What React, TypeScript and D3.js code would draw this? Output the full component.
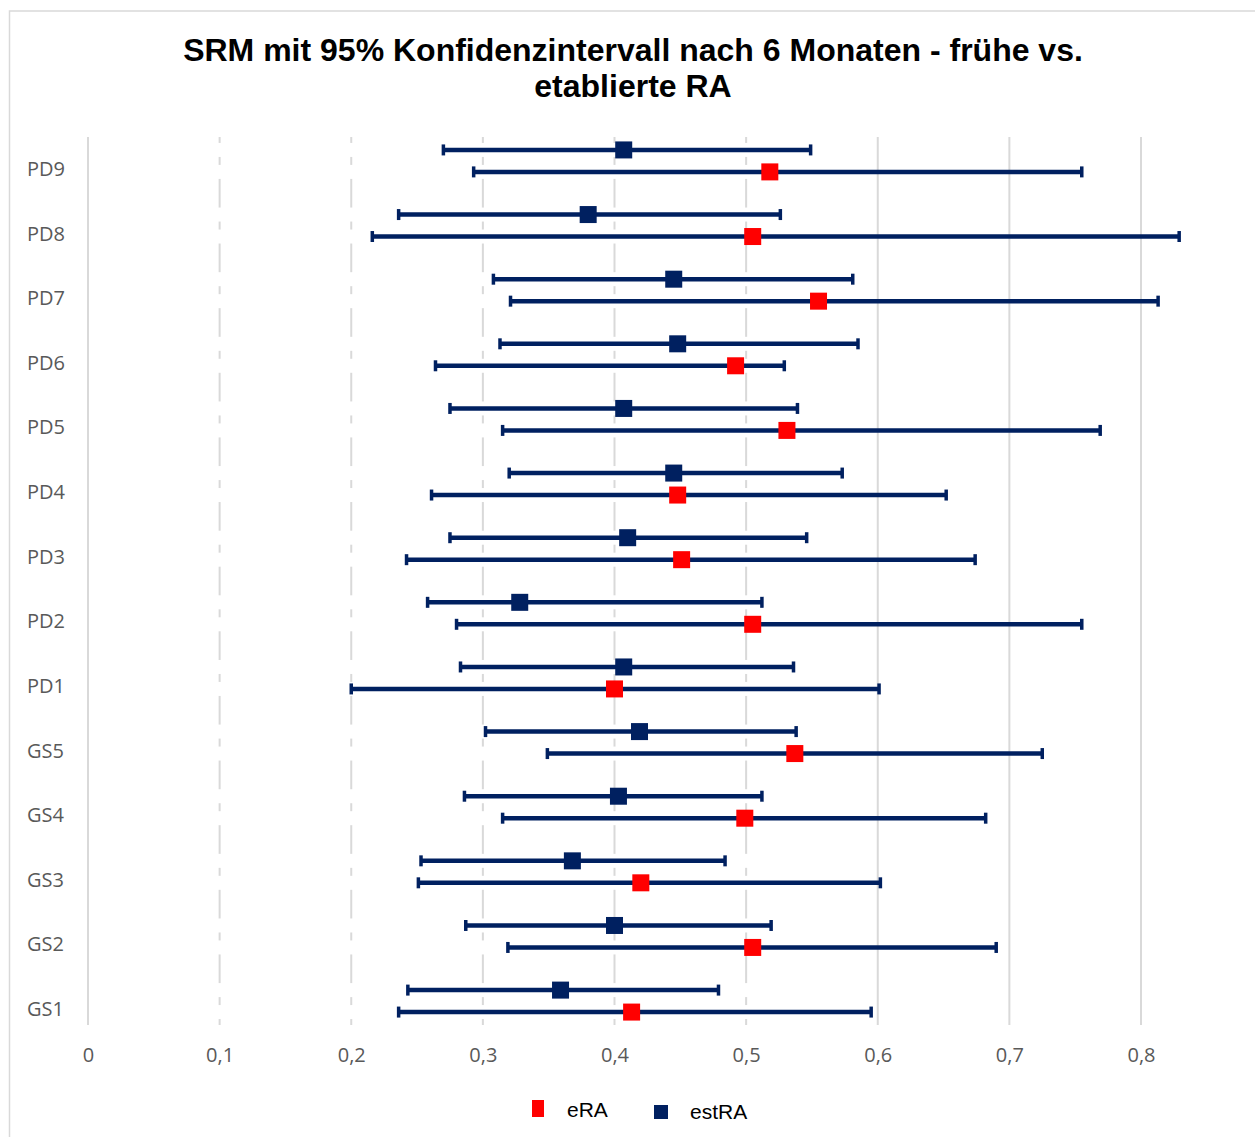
import React, { useEffect, useRef } from "react";
import * as d3 from "d3";

const categories = ["GS1", "GS2", "GS3", "GS4", "GS5", "PD1", "PD2", "PD3", "PD4", "PD5", "PD6", "PD7", "PD8", "PD9"];

const eraMid = [0.413, 0.505, 0.42, 0.499, 0.537, 0.4, 0.505, 0.451, 0.448, 0.531, 0.492, 0.555, 0.505, 0.518];
const eraLow = [0.236, 0.319, 0.251, 0.315, 0.349, 0.2, 0.28, 0.242, 0.261, 0.315, 0.264, 0.321, 0.216, 0.293];
const eraHigh = [0.595, 0.69, 0.602, 0.682, 0.725, 0.601, 0.755, 0.674, 0.652, 0.769, 0.529, 0.813, 0.829, 0.755];

const estMid = [0.359, 0.4, 0.368, 0.403, 0.419, 0.407, 0.328, 0.41, 0.445, 0.407, 0.448, 0.445, 0.38, 0.407];
const estLow = [0.243, 0.287, 0.253, 0.286, 0.302, 0.283, 0.258, 0.275, 0.32, 0.275, 0.313, 0.308, 0.236, 0.27];
const estHigh = [0.479, 0.519, 0.484, 0.512, 0.538, 0.536, 0.512, 0.546, 0.573, 0.539, 0.585, 0.581, 0.526, 0.549];

const xTicks = [0, 0.1, 0.2, 0.3, 0.4, 0.5, 0.6, 0.7, 0.8];

const seriesNames = ["eRA", "estRA"];

const App = () => {
  const ref = useRef<SVGSVGElement>(null);

  useEffect(() => {
    const svg = d3.select(ref.current);
    svg.selectAll("*").remove();

    const width = 1255;
    const height = 1137;
    const navy = "#002060";
    const red = "#FF0000";
    const grid = "#d9d9d9";

    const x = d3.scaleLinear().domain([0, 0.8]).range([88, 1141]);
    const y = d3.scaleLinear().domain([-0.2, 13.54]).range([1025, 137]);
    const estOffset = 0.34;

    svg.attr("viewBox", [0, 0, width, height]);

    // chart border (cut at the right and bottom like the screenshot)
    svg
      .append("rect")
      .attr("x", 9.5)
      .attr("y", 11)
      .attr("width", 1300)
      .attr("height", 1200)
      .attr("fill", "#fff")
      .attr("stroke", grid)
      .attr("stroke-width", 1.5);

    // title
    const title = svg
      .append("text")
      .attr("text-anchor", "middle")
      .attr("font-family", "'Liberation Sans', Arial, sans-serif")
      .attr("font-weight", "bold")
      .attr("font-size", 32)
      .attr("fill", "#000");
    title.append("tspan").attr("x", 633).attr("y", 61).text("SRM mit 95% Konfidenzintervall nach 6 Monaten - frühe vs.");
    title.append("tspan").attr("x", 633).attr("y", 97).text("etablierte RA");

    // vertical gridlines
    svg
      .append("g")
      .selectAll("line")
      .data(xTicks)
      .join("line")
      .attr("x1", (d) => x(d))
      .attr("x2", (d) => x(d))
      .attr("y1", y.range()[1])
      .attr("y2", y.range()[0])
      .attr("stroke", grid)
      .attr("stroke-width", 2);

    // white bands behind the rows (gaps in the gridlines)
    const rows = categories.flatMap((_, i) => [i, i + estOffset]);
    svg
      .append("g")
      .selectAll("rect")
      .data(rows)
      .join("rect")
      .attr("x", x(0.02))
      .attr("width", x(0.55) - x(0.02))
      .attr("y", (d) => y(d) - 7)
      .attr("height", 14)
      .attr("fill", "#fff");

    // x axis labels
    const xAxis = svg
      .append("g")
      .attr("transform", "translate(0,1025)")
      .call(
        d3
          .axisBottom(x)
          .tickValues(xTicks)
          .tickSize(0)
          .tickPadding(23)
          .tickFormat((d) => d3.format(".1~f")(d as number).replace(".", ","))
      );
    xAxis.select(".domain").remove();
    xAxis
      .selectAll("text")
      .attr("font-family", "'Open Sans', sans-serif")
      .attr("font-size", 20)
      .attr("fill", "#595959");

    // category labels
    svg
      .append("g")
      .selectAll("text")
      .data(categories)
      .join("text")
      .attr("x", 27)
      .attr("y", (_, i) => y(i) - 3)
      .attr("dy", "0.35em")
      .attr("font-family", "'Open Sans', sans-serif")
      .attr("font-size", 20)
      .attr("fill", "#595959")
      .text((d) => d);

    const series = [
      { name: "estRA", mid: estMid, low: estLow, high: estHigh, offset: estOffset, color: navy },
      { name: "eRA", mid: eraMid, low: eraLow, high: eraHigh, offset: 0, color: red },
    ];

    series.forEach((s) => {
      const g = svg.append("g");
      const idx = d3.range(categories.length);
      g.selectAll("line.bar")
        .data(idx)
        .join("line")
        .attr("class", "bar")
        .attr("x1", (i) => x(s.low[i]))
        .attr("x2", (i) => x(s.high[i]))
        .attr("y1", (i) => y(i + s.offset))
        .attr("y2", (i) => y(i + s.offset))
        .attr("stroke", navy)
        .attr("stroke-width", 4.5);
      g.selectAll("line.capl")
        .data(idx)
        .join("line")
        .attr("class", "capl")
        .attr("x1", (i) => x(s.low[i]))
        .attr("x2", (i) => x(s.low[i]))
        .attr("y1", (i) => y(i + s.offset) - 5.5)
        .attr("y2", (i) => y(i + s.offset) + 5.5)
        .attr("stroke", navy)
        .attr("stroke-width", 3.5);
      g.selectAll("line.caph")
        .data(idx)
        .join("line")
        .attr("class", "caph")
        .attr("x1", (i) => x(s.high[i]))
        .attr("x2", (i) => x(s.high[i]))
        .attr("y1", (i) => y(i + s.offset) - 5.5)
        .attr("y2", (i) => y(i + s.offset) + 5.5)
        .attr("stroke", navy)
        .attr("stroke-width", 3.5);
    });

    series.forEach((s) => {
      svg
        .append("g")
        .selectAll("rect")
        .data(d3.range(categories.length))
        .join("rect")
        .attr("x", (i) => x(s.mid[i]) - 8.5)
        .attr("y", (i) => y(i + s.offset) - 8.5)
        .attr("width", 17)
        .attr("height", 17)
        .attr("fill", s.color);
    });

    // legend
    const legend = svg.append("g");
    const legendItems = [
      { name: seriesNames[0], color: red, rx: 532, ry: 1100, rw: 12, rh: 17, tx: 567, ty: 1117 },
      { name: seriesNames[1], color: navy, rx: 654, ry: 1105, rw: 14, rh: 14, tx: 690, ty: 1119 },
    ];
    legendItems.forEach((l) => {
      legend
        .append("rect")
        .attr("x", l.rx)
        .attr("y", l.ry)
        .attr("width", l.rw)
        .attr("height", l.rh)
        .attr("fill", l.color);
      legend
        .append("text")
        .attr("x", l.tx)
        .attr("y", l.ty)
        .attr("font-family", "'Liberation Sans', Arial, sans-serif")
        .attr("font-size", 21)
        .attr("fill", "#000")
        .text(l.name);
    });
  }, []);

  return (
    <svg
      ref={ref}
      width={1255}
      height={1137}
      style={{ position: "absolute", left: 0, top: 0, display: "block" }}
    ></svg>
  );
};

export default App;
